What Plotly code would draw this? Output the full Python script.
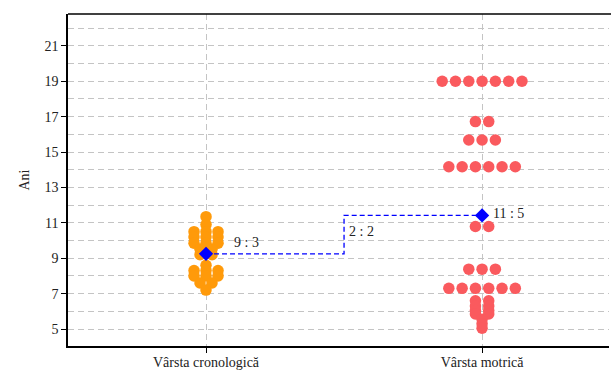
import plotly.graph_objects as go

# Categories on the x axis
categories = ["Vârsta cronologică", "Vârsta motrică"]

# Individual ages (years) for each group
varsta_cronologica = [11.35, 10.9,
                      10.5, 10.5, 10.5,
                      10.2, 10.2, 10.2,
                      9.85, 9.85, 9.85,
                      9.5, 9.5,
                      9.2, 9.2,
                      8.6,
                      8.3, 8.3, 8.3,
                      8.0, 8.0, 8.0,
                      7.6, 7.6,
                      7.2]

varsta_motrica = [19.0] * 7 + [16.72] * 2 + [15.68] * 3 + [14.17] * 6 + \
                 [10.79] * 2 + [8.38] * 3 + [7.3] * 6 + \
                 [6.6] * 2 + [6.3] * 2 + [6.05] * 2 + [5.85] * 2 + [5.55, 5.3, 5.05]

# Group means as years : months
mean_years = [9, 11]
mean_months = [3, 5]

# Y axis ticks
y_ticks = [5, 7, 9, 11, 13, 15, 17, 19, 21]

W, H = 611, 370
M_L, M_T, M_B, M_R = 68, 14, 24, 0
X_RANGE = [-0.5, 1.467]
PX_PER_UNIT = (W - M_L - M_R) / (X_RANGE[1] - X_RANGE[0])

SERIF = "Liberation Serif"


def swarm_offsets(values, spacing_px):
    """Centre identical values side by side in a row."""
    rows = {}
    for i, v in enumerate(values):
        rows.setdefault(v, []).append(i)
    offs = [0.0] * len(values)
    for v, idx in rows.items():
        n = len(idx)
        for k, i in enumerate(idx):
            offs[i] = (k - (n - 1) / 2) * spacing_px / PX_PER_UNIT
    return offs


fig = go.Figure()

groups = [
    (varsta_cronologica, "#FF9A0A", 12, 11.5),
    (varsta_motrica, "#FA5A5E", 13.3, 11.5),
]
for gi, (vals, color, spacing, size) in enumerate(groups):
    offs = swarm_offsets(vals, spacing)
    fig.add_trace(go.Scatter(
        x=[gi + o for o in offs], y=vals, mode="markers",
        marker=dict(color=color, size=size, line=dict(width=0)),
        hoverinfo="y", showlegend=False,
    ))

means = [y + m / 12 for y, m in zip(mean_years, mean_months)]

# Connector between the two means, stepping at the midpoint
mid = 0.5
fig.add_trace(go.Scatter(
    x=[0, mid, mid, 1], y=[means[0], means[0], means[1], means[1]],
    mode="lines", line=dict(color="#0000FF", width=1.3, dash="5px,3px"),
    hoverinfo="skip", showlegend=False,
))
fig.add_trace(go.Scatter(
    x=[0, 1], y=means, mode="markers",
    marker=dict(symbol="diamond", color="#0000FF", size=11, line=dict(width=0)),
    showlegend=False,
))

diff_total = (mean_years[1] * 12 + mean_months[1]) - (mean_years[0] * 12 + mean_months[0])
diff_y, diff_m = divmod(diff_total, 12)

label_font = dict(family=SERIF, size=14, color="#222222")
fig.add_annotation(x=0, y=means[0], text=f"{mean_years[0]} : {mean_months[0]}",
                   showarrow=False, xanchor="left", yanchor="middle",
                   xshift=26, yshift=11, font=label_font)
fig.add_annotation(x=1, y=means[1], text=f"{mean_years[1]} : {mean_months[1]}",
                   showarrow=False, xanchor="left", yanchor="middle",
                   xshift=9, yshift=2, font=label_font)
fig.add_annotation(x=mid, y=(means[0] + means[1]) / 2, text=f"{diff_y} : {diff_m}",
                   showarrow=False, xanchor="left", yanchor="middle",
                   xshift=3, yshift=3, font=label_font)

axis_font = dict(family=SERIF, size=14, color="#222222")
fig.update_xaxes(
    range=X_RANGE, tickvals=[0, 1], ticktext=categories,
    showgrid=True, gridcolor="#c4c4c4", griddash="6px,4px", gridwidth=1,
    showline=True, linecolor="black", linewidth=1.5, mirror=False,
    ticks="outside", ticklen=5, tickcolor="black", ticklabelstandoff=-3,
    tickfont=axis_font, zeroline=False, automargin=False,
)
fig.update_yaxes(
    range=[4.04, 22.8], tickvals=y_ticks,
    showgrid=True, gridcolor="#c4c4c4", griddash="6px,4px", gridwidth=1,
    minor=dict(dtick=1, tick0=0, showgrid=True, gridcolor="#c4c4c4",
               griddash="6px,4px", gridwidth=1),
    showline=True, linecolor="black", linewidth=1.5, mirror=False,
    ticks="outside", ticklen=5, tickcolor="black",
    tickfont=axis_font, zeroline=False, automargin=False,
    title=dict(text="Ani", font=axis_font, standoff=12),
)
# Open right side of the frame, closed top
fig.add_shape(type="line", xref="paper", yref="paper", x0=1, x1=1, y0=-0.01, y1=1.01,
              layer="above", line=dict(color="white", width=4))
fig.add_shape(type="line", xref="paper", yref="paper", x0=0, x1=1, y0=1, y1=1,
              layer="above", line=dict(color="black", width=1.5))
fig.update_layout(
    width=W, height=H,
    margin=dict(l=M_L, r=M_R, t=M_T, b=M_B),
    paper_bgcolor="white", plot_bgcolor="white",
)

fig.write_html("out.html")
